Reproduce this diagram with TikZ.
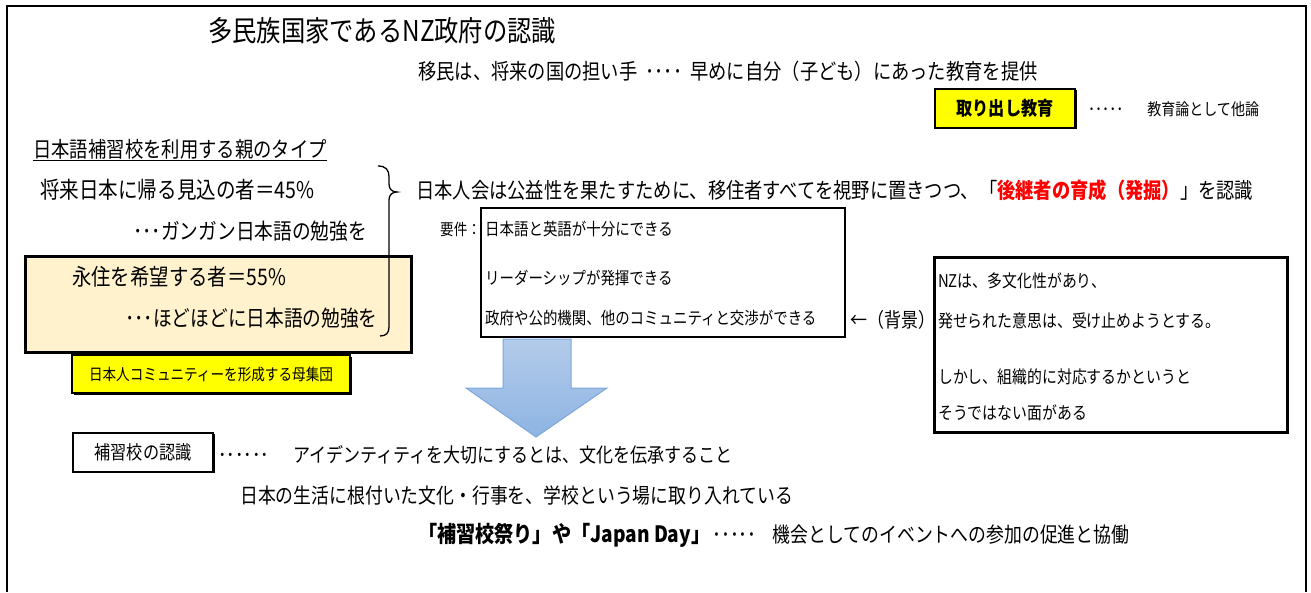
\documentclass[tikz,border=0pt]{standalone}
\usepackage{fontspec}
\setmainfont{Noto Sans CJK JP}[FakeStretch=0.85]
\usetikzlibrary{shadows}
\definecolor{beigefill}{HTML}{FFF2CC}
\definecolor{yel}{HTML}{FFFF00}
\definecolor{arrtop}{HTML}{B3CBEA}
\definecolor{arrbot}{HTML}{8EB4E3}
\definecolor{arrline}{HTML}{7BA7DC}
\newcommand\fs[1]{\fontsize{#1}{#1}\selectfont}
\begin{document}
\begin{tikzpicture}[x=1pt,y=-1pt,
  txt/.style={inner sep=0pt, anchor=west},
  shadowbox/.style={draw=black, line width=2pt, inner sep=0pt,
    drop shadow={shadow xshift=1.5pt, shadow yshift=-1.5pt, opacity=1, fill=black}},
  yellowbox/.style={shadowbox, fill=yel},
  beigebox/.style={draw=black, line width=3pt, fill=beigefill, inner sep=0pt},
  thinbox/.style={draw=black, line width=1.8pt, fill=white, inner sep=0pt,
    drop shadow={shadow xshift=1pt, shadow yshift=-1pt, opacity=1, fill=black}},
  thickbox/.style={draw=black, line width=3pt, fill=white, inner sep=0pt}]
\useasboundingbox (0,0) rectangle (1311,592);
% outer frame
\coordinate (fbl) at (7,592);
\coordinate (ftl) at (7,6);
\coordinate (ftr) at (1306,6);
\coordinate (fbr) at (1306,592);
\draw[line width=2.5pt] (fbl) -- (ftl) -- (ftr) -- (fbr);

% top
\node[txt] (title) at (208,31) {\fs{28.6}多民族国家であるNZ政府の認識};
\node[txt] (imin) at (418,71) {\fs{21.5}移民は、将来の国の担い手\ \ ････\ \ 早めに自分（子ども）にあった教育を提供};
\node[yellowbox, minimum width=140pt, minimum height=39pt] (toridashi) at (1005,108) {\fs{19}\bfseries 取り出し教育};
\node[txt] (taron) at (1088,109) {\fs{16.5}･････\hspace{24pt}教育論として他論};

% left group
\node[txt] (oya) at (33,150) {\fs{21.6}\underline{日本語補習校を利用する親のタイプ}};
\node[txt] (kaeru) at (40,190) {\fs{23}将来日本に帰る見込の者＝45\%};
\node[txt] (gangan) at (133,231) {\fs{22}･･･ガンガン日本語の勉強を};
\node[beigebox, minimum width=386pt, minimum height=96pt] (eijubox) at (218,304) {};
\node[txt] (eiju) at (72,277) {\fs{22.8}永住を希望する者＝55\%};
\node[txt] (hodo) at (125,318) {\fs{22}･･･ほどほどに日本語の勉強を};
\node[yellowbox, minimum width=278pt, minimum height=38pt] (boshu) at (211,374) {\fs{16}日本人コミュニティーを形成する母集団};

% brace
\draw[line width=1.3pt] (378,166) .. controls (386,166) and (389,170) .. (389,177) -- (389,184)
  .. controls (389,189) and (392,192) .. (397,192)
  .. controls (392,192) and (389,195) .. (389,200) -- (389,327)
  .. controls (389,333) and (386,336) .. (380,336);

% middle
\node[txt] (nihonjinkai) at (416,190) {\fs{21.5}日本人会は公益性を果たすために、移住者すべてを視野に置きつつ、「{\color{red}\bfseries 後継者の育成（発掘）}」を認識};
\node[txt] (yoken) at (440,229) {\fs{16}要件：};
\node[thinbox, minimum width=364pt, minimum height=129pt] (req) at (663,272.5) {};
\node[txt] (req1) at (485,229) {\fs{17}日本語と英語が十分にできる};
\node[txt] (req2) at (485,278) {\fs{17}リーダーシップが発揮できる};
\node[txt] (req3) at (485,318) {\fs{17}政府や公的機関、他のコミュニティと交渉ができる};
\node[txt] (haikei) at (850,320) {\fs{20}←（背景）};

% right box
\node[thickbox, minimum width=353pt, minimum height=175pt] (nzbox) at (1110.5,344.5) {};
\node[txt] (nz1) at (938,281) {\fs{17.5}NZは、多文化性があり、};
\node[txt] (nz2) at (938,321) {\fs{17.5}発せられた意思は、受け止めようとする。};
\node[txt] (nz3) at (938,377) {\fs{17.5}しかし、組織的に対応するかというと};
\node[txt] (nz4) at (938,413) {\fs{17.5}そうではない面がある};

% block arrow
\shade[top color=arrtop, bottom color=arrbot, draw=arrline, line width=1pt]
  (503,339) -- (571,339) -- (571,388) -- (607,388) -- (536,437) -- (466,388) -- (503,388) -- cycle;

% bottom
\node[shadowbox, fill=white, minimum width=140pt, minimum height=39pt] (hoshuko) at (143,452) {\fs{19}補習校の認識};
\node[txt] (identity) at (218,455) {\fs{20}･･････\hspace{24pt}アイデンティティを大切にするとは、文化を伝承すること};
\node[txt] (seikatsu) at (240,495) {\fs{21}日本の生活に根付いた文化・行事を、学校という場に取り入れている};
\node[txt] (matsuri) at (418,535) {\fs{22.5}\bfseries 「補習校祭り」や「Japan Day」};
\node[txt] (kikai) at (712,535) {\fs{21}･････\hspace{16pt}機会としてのイベントへの参加の促進と協働};
\end{tikzpicture}
\end{document}
